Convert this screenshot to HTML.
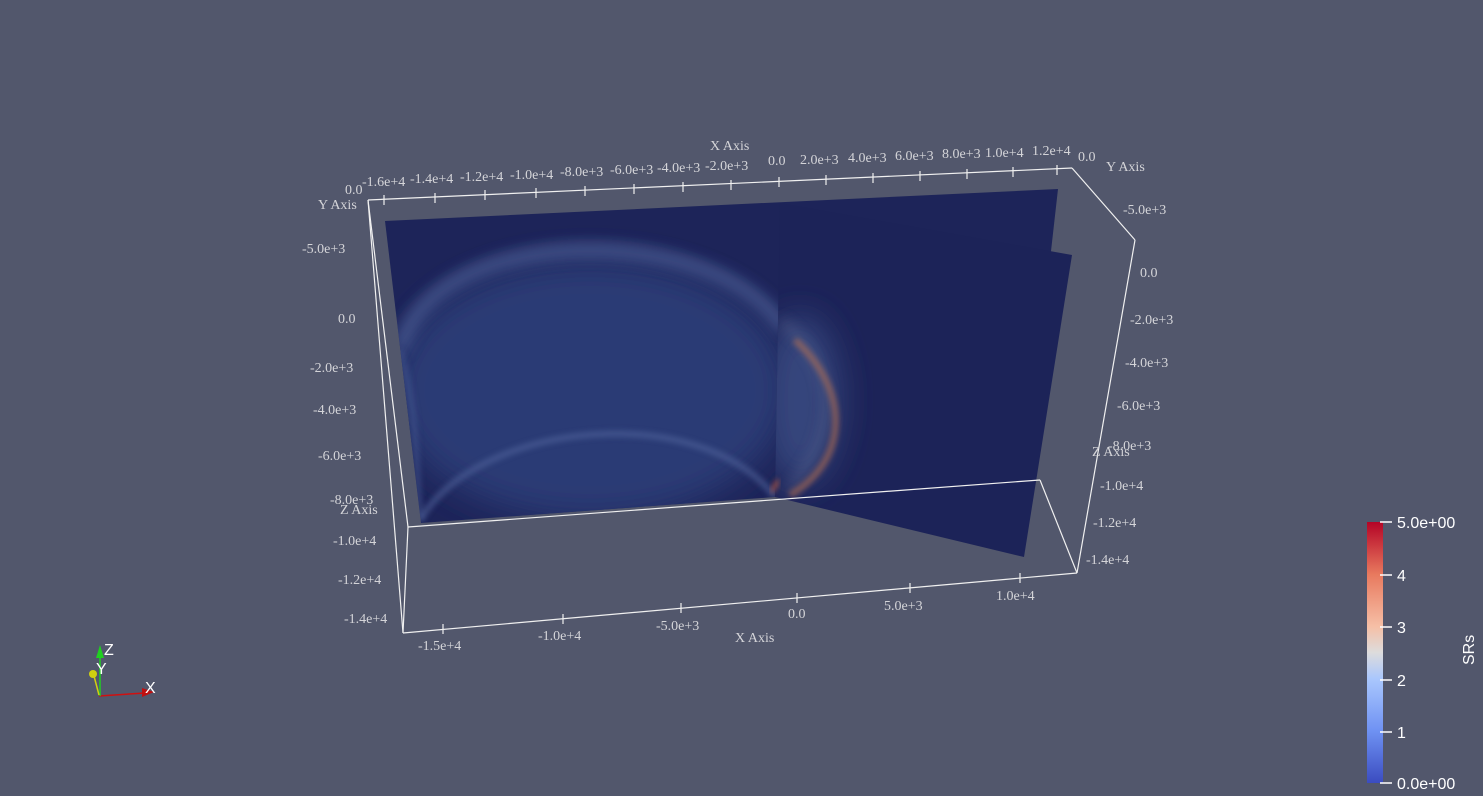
<!DOCTYPE html>
<html><head><meta charset="utf-8"><style>
html,body{margin:0;padding:0;background:#52576c;width:1483px;height:796px;overflow:hidden}
svg{display:block}
.t{font-family:"Liberation Serif",serif;font-size:14px;fill:#d4d4d8}
.c{font-family:"Liberation Sans",sans-serif;font-size:16px;fill:#ffffff}
</style></head><body>
<svg width="1483" height="796" viewBox="0 0 1483 796">
<defs>
<linearGradient id="cb" x1="0" y1="1" x2="0" y2="0">
<stop offset="0" stop-color="#3b4cc0"/><stop offset="0.2" stop-color="#6f92f3"/><stop offset="0.4" stop-color="#aac7fd"/><stop offset="0.5" stop-color="#dddcdc"/><stop offset="0.6" stop-color="#f6bfa6"/><stop offset="0.8" stop-color="#e8795e"/><stop offset="1" stop-color="#b40426"/></linearGradient>
<filter id="b6" x="-50%" y="-50%" width="200%" height="200%"><feGaussianBlur stdDeviation="7"/></filter>
<filter id="b3" x="-50%" y="-50%" width="200%" height="200%"><feGaussianBlur stdDeviation="3"/></filter>
<filter id="b12" x="-100%" y="-100%" width="300%" height="300%"><feGaussianBlur stdDeviation="16"/></filter>
<clipPath id="lp"><polygon points="385,221 1058,189 1050,260 775,497 421,523"/></clipPath>
<clipPath id="rp"><polygon points="780,203 1072,255 1024,557 775,497"/></clipPath>
</defs>

<g>
<polygon points="385,221 1058,189 1050,260 775,497 421,523" fill="#1d2459"/>
<g clip-path="url(#lp)">
<ellipse cx="590" cy="390" rx="200" ry="130" fill="#2b3a74" filter="url(#b12)"/>
<path d="M400,350 C430,220 720,220 785,330" stroke="#5a6ea6" stroke-width="14" fill="none" opacity="0.6" filter="url(#b6)"/>
<path d="M420,520 C480,420 700,400 775,497" stroke="#52669e" stroke-width="6" fill="none" opacity="0.6" filter="url(#b3)"/>
<path d="M400,350 C420,420 415,480 421,520" stroke="#4c5f98" stroke-width="6" fill="none" opacity="0.5" filter="url(#b3)"/>
</g>
</g>
<g>
<polygon points="780,203 1072,255 1024,557 775,497" fill="#1c2358"/>
<g clip-path="url(#rp)">
<ellipse cx="800" cy="400" rx="40" ry="85" fill="#34447c" filter="url(#b12)"/>
<path d="M780,320 C830,360 850,420 785,495" stroke="#8a93b0" stroke-width="5" fill="none" opacity="0.45" filter="url(#b6)"/>
<path d="M795,340 C850,390 850,460 790,495" stroke="#b8704f" stroke-width="6" fill="none" opacity="0.65" filter="url(#b3)"/>
</g>
<path d="M772,492 L778,480" stroke="#d0603a" stroke-width="3" filter="url(#b3)"/>
</g>

<g stroke="#f0f0f0" stroke-width="1.2" fill="none">
<line x1="368" y1="200" x2="1072" y2="168"/>
<line x1="368" y1="200" x2="408" y2="527"/>
<line x1="368" y1="200" x2="403" y2="633"/>
<line x1="408" y1="527" x2="1040" y2="480"/>
<line x1="408" y1="527" x2="403" y2="633"/>
<line x1="403" y1="633" x2="1077" y2="573"/>
<line x1="1072" y1="168" x2="1135" y2="240"/>
<line x1="1135" y1="240" x2="1077" y2="573"/>
<line x1="1040" y1="480" x2="1077" y2="573"/>
</g>

<g>
<text class="t" x="710" y="150">X Axis</text>
<text class="t" x="735" y="642">X Axis</text>
<text class="t" x="318" y="209">Y Axis</text>
<text class="t" x="1106" y="171">Y Axis</text>
<text class="t" x="340" y="514">Z Axis</text>
<text class="t" x="1092" y="456">Z Axis</text>
</g>
<g>
<text class="t" x="362" y="186">-1.6e+4</text><text class="t" x="410" y="183">-1.4e+4</text>
<text class="t" x="460" y="181">-1.2e+4</text><text class="t" x="510" y="179">-1.0e+4</text>
<text class="t" x="560" y="176">-8.0e+3</text><text class="t" x="610" y="174">-6.0e+3</text>
<text class="t" x="657" y="172">-4.0e+3</text><text class="t" x="705" y="170">-2.0e+3</text>
<text class="t" x="768" y="165">0.0</text><text class="t" x="800" y="164">2.0e+3</text>
<text class="t" x="848" y="162">4.0e+3</text><text class="t" x="895" y="160">6.0e+3</text>
<text class="t" x="942" y="158">8.0e+3</text><text class="t" x="985" y="157">1.0e+4</text>
<text class="t" x="1032" y="155">1.2e+4</text><text class="t" x="1078" y="161">0.0</text>
<text class="t" x="345" y="194">0.0</text>
</g>
<g>
<text class="t" x="302" y="253">-5.0e+3</text><text class="t" x="338" y="323">0.0</text>
<text class="t" x="310" y="372">-2.0e+3</text><text class="t" x="313" y="414">-4.0e+3</text>
<text class="t" x="318" y="460">-6.0e+3</text><text class="t" x="330" y="504">-8.0e+3</text>
<text class="t" x="333" y="545">-1.0e+4</text><text class="t" x="338" y="584">-1.2e+4</text>
<text class="t" x="344" y="623">-1.4e+4</text>
</g>
<g>
<text class="t" x="1123" y="214">-5.0e+3</text><text class="t" x="1140" y="277">0.0</text>
<text class="t" x="1130" y="324">-2.0e+3</text><text class="t" x="1125" y="367">-4.0e+3</text>
<text class="t" x="1117" y="410">-6.0e+3</text><text class="t" x="1108" y="450">-8.0e+3</text>
<text class="t" x="1100" y="490">-1.0e+4</text><text class="t" x="1093" y="527">-1.2e+4</text>
<text class="t" x="1086" y="564">-1.4e+4</text>
</g>
<g>
<text class="t" x="418" y="650">-1.5e+4</text><text class="t" x="538" y="640">-1.0e+4</text>
<text class="t" x="656" y="630">-5.0e+3</text><text class="t" x="788" y="618">0.0</text>
<text class="t" x="884" y="610">5.0e+3</text><text class="t" x="996" y="600">1.0e+4</text>
</g>
<g stroke="#f0f0f0" stroke-width="1.2">
<line x1="384" y1="195" x2="384" y2="205"/><line x1="435" y1="193" x2="435" y2="203"/><line x1="485" y1="190" x2="485" y2="200"/><line x1="536" y1="188" x2="536" y2="198"/><line x1="585" y1="186" x2="585" y2="196"/><line x1="634" y1="184" x2="634" y2="194"/><line x1="683" y1="182" x2="683" y2="192"/><line x1="731" y1="180" x2="731" y2="190"/><line x1="779" y1="177" x2="779" y2="187"/><line x1="826" y1="175" x2="826" y2="185"/><line x1="873" y1="173" x2="873" y2="183"/><line x1="920" y1="171" x2="920" y2="181"/><line x1="967" y1="169" x2="967" y2="179"/><line x1="1013" y1="167" x2="1013" y2="177"/><line x1="1057" y1="165" x2="1057" y2="175"/>
<line x1="443" y1="624" x2="443" y2="634"/><line x1="563" y1="614" x2="563" y2="624"/><line x1="681" y1="603" x2="681" y2="613"/><line x1="797" y1="593" x2="797" y2="603"/><line x1="910" y1="583" x2="910" y2="593"/><line x1="1020" y1="573" x2="1020" y2="583"/>
</g>

<g>
<rect x="1367" y="522" width="16" height="261" fill="url(#cb)"/>
<g stroke="#fff" stroke-width="1.5"><line x1="1380" y1="522" x2="1392" y2="522"/><line x1="1380" y1="575" x2="1392" y2="575"/><line x1="1380" y1="627" x2="1392" y2="627"/><line x1="1380" y1="680" x2="1392" y2="680"/><line x1="1380" y1="732" x2="1392" y2="732"/><line x1="1380" y1="783" x2="1392" y2="783"/></g>
<text class="c" x="1397" y="528">5.0e+00</text><text class="c" x="1397" y="581">4</text><text class="c" x="1397" y="633">3</text><text class="c" x="1397" y="686">2</text><text class="c" x="1397" y="738">1</text><text class="c" x="1397" y="789">0.0e+00</text>
<text class="c" font-size="14" transform="translate(1474,665) rotate(-90)">SRs</text>
</g>

<g>
<line x1="99" y1="696" x2="145" y2="693" stroke="#d01010" stroke-width="1.5"/>
<polygon points="142,688 154,692 142,697" fill="#c01010"/>
<line x1="100" y1="696" x2="100" y2="655" stroke="#20d020" stroke-width="1.5"/>
<polygon points="96,658 100,645 104,658" fill="#20d020"/>
<line x1="99" y1="695" x2="94" y2="676" stroke="#d0d010" stroke-width="1.5"/>
<circle cx="93" cy="674" r="4" fill="#d0d010"/>
<text class="c" font-size="13" x="104" y="655">Z</text>
<text class="c" font-size="13" x="96" y="674">Y</text>
<text class="c" font-size="13" x="145" y="693">X</text>
</g>
</svg>
</body></html>
